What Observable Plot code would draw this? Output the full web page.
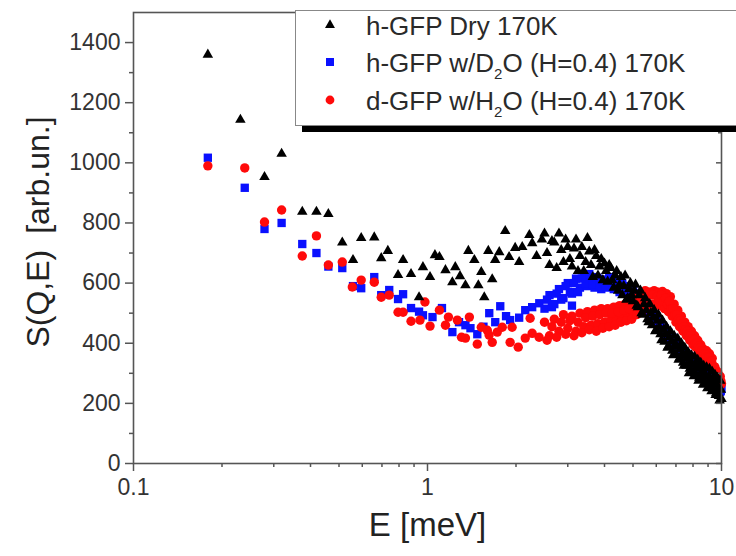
<!DOCTYPE html>
<html><head><meta charset="utf-8">
<script src="https://cdn.jsdelivr.net/npm/d3@7"></script>
<script src="https://cdn.jsdelivr.net/npm/@observablehq/plot@0.6"></script>
<style>
body{margin:0;background:#fff;}
#chart{position:relative;width:736px;height:556px;overflow:hidden;background:#fff;}
#legend{position:absolute;left:295px;top:10px;width:470px;height:114px;background:#fff;border:1px solid #888;box-shadow:7px 6px 0 #000;font-family:'Liberation Sans',Arial,sans-serif;font-size:26px;color:#2a2a2a;}
.lrow{position:absolute;left:0;height:30px;white-space:nowrap;}
.lrow svg{position:absolute;left:26px;top:6px;}
.lrow span{position:absolute;left:70px;top:0;line-height:30px;}
.lrow sub{font-size:15px;vertical-align:-7px;line-height:0;}
</style></head><body><div id="chart"></div>
<script>
// Series names (legend labels)
const seriesNames = ["h-GFP Dry 170K", "h-GFP w/D<sub>2</sub>O (H=0.4) 170K", "d-GFP w/H<sub>2</sub>O (H=0.4) 170K"];
const seriesColors = ["#000000", "#0a10ff", "#ff0a0a"];

// h-GFP Dry 170K, individually resolved points
const dryE = [0.179,0.231,0.279,0.319,0.375,0.419,0.460,0.513,0.558,0.595,0.659,0.696,0.733,0.794,0.826,0.879,0.936,0.965,1.02,1.06,1.098,1.151,1.215,1.243,1.29,1.346,1.377,1.443,1.489,1.524,1.560,1.610,1.660,1.699,1.754,1.838,1.895,1.987,2.05,2.10,2.22,2.27,2.35,2.45];
const dryS = [1360,1143,953,1030,837,837,830,735,677,750,752,683,707,627,677,630,553,653,620,693,687,643,603,653,623,593,707,677,593,637,553,707,613,677,703,773,687,717,670,720,760,733,690,745];

// h-GFP w/D2O, individually resolved points
const d2oE = [0.179,0.239,0.279,0.319,0.375,0.419,0.460,0.513,0.558,0.595,0.659,0.696,0.741,0.794,0.826,0.879,0.936,0.965,1.04,1.12,1.215,1.28,1.346,1.40,1.477,1.55,1.622,1.70,1.768,1.85,1.910,2.05,2.15,2.27,2.40,3.1];
const d2oS = [1017,917,780,800,730,700,655,650,590,583,620,560,577,547,563,517,505,493,487,517,437,470,460,450,430,455,500,470,523,490,477,485,510,520,533,525];

// d-GFP w/H2O, individually resolved points
const h2oE = [0.179,0.239,0.279,0.319,0.375,0.419,0.460,0.513,0.555,0.595,0.659,0.696,0.741,0.794,0.826,0.879,0.943,0.98,1.02,1.098,1.151,1.178,1.263,1.305,1.346,1.388,1.477,1.524,1.597,1.62,1.660,1.727,1.796,1.910,1.940,2.035,2.150,2.234,2.270,2.397];
const h2oS = [990,983,803,843,690,757,660,670,587,610,603,553,560,503,503,473,477,537,457,510,460,487,477,420,417,487,397,453,443,427,403,437,453,403,453,387,417,483,433,420];

// Dense high-energy region, grid A (meV)
const denseE = [2.5,2.6,2.7,2.8,2.9,3.0,3.1,3.2,3.3,3.4,3.5,3.6,3.7,3.8,3.9,4.0,4.1,4.2,4.3,4.4,4.5,4.6,4.7,4.8,4.9,5.0,5.1,5.2,5.3,5.4,5.5,5.6,5.7,5.8,5.9,6.0,6.1,6.2,6.3,6.4,6.5,6.6,6.7,6.8,6.9,7.0,7.1,7.2,7.3,7.4,7.5,7.6,7.7,7.8,7.9,8.0,8.1,8.2,8.3,8.4,8.5,8.6,8.7,8.8,8.9,9.0,9.1,9.2,9.3,9.4,9.5,9.6,9.7,9.8,9.9,10.0];
const dryDense = [765,660,735,765,670,720,655,745,690,640,750,660,710,625,680,665,605,650,585,640,595,560,625,550,600,540,595,520,575,495,550,480,530,460,510,445,495,430,475,405,455,390,440,375,425,365,415,350,400,335,385,325,370,315,360,305,355,295,345,285,335,280,325,270,320,265,315,255,305,245,295,235,285,225,275,215];
const d2oDense = [515,560,530,580,550,600,565,615,585,625,590,620,585,615,580,612,585,610,580,605,570,598,565,590,555,580,545,565,525,545,505,525,485,505,470,490,455,470,435,450,415,435,400,420,390,405,375,390,360,375,350,365,340,355,330,345,320,335,310,325,305,318,295,308,285,298,275,288,265,278,255,268,245,258,238,248];
const h2oDense = [470,425,480,440,495,450,490,440,500,455,505,460,510,465,515,470,515,475,520,480,525,485,530,490,535,500,550,510,565,520,575,525,570,530,575,530,570,525,572,515,565,505,555,490,530,470,510,455,490,440,470,425,455,410,440,395,425,385,410,370,395,360,380,355,375,345,365,330,350,315,320,290,305,275,290,265];

// Dense high-energy region, grid B (meV)
const denseE2 = [2.55,2.65,2.75,2.85,2.95,3.05,3.15,3.25,3.35,3.45,3.55,3.65,3.75,3.85,3.95,4.05,4.15,4.25,4.35,4.45,4.55,4.65,4.75,4.85,4.95,5.05,5.15,5.25,5.35,5.45,5.55,5.65,5.75,5.85,5.95,6.05,6.15,6.25,6.35,6.45,6.55,6.65,6.75,6.85,6.95,7.05,7.15,7.25,7.35,7.45,7.55,7.65,7.75,7.85,7.95,8.05,8.15,8.25,8.35,8.45,8.55,8.65,8.75,8.85,8.95,9.05,9.15,9.25,9.35,9.45,9.55,9.65,9.75,9.85,9.95];
const dryDense2 = [700,740,650,710,745,680,715,640,720,670,705,620,690,655,610,640,660,610,625,575,620,590,545,580,560,575,525,560,500,530,510,470,500,485,440,475,455,410,445,430,385,420,405,360,395,390,345,380,365,325,360,350,300,340,330,290,330,320,275,315,305,262,300,292,250,290,280,240,275,268,228,262,250,210,245];
const d2oDense2 = [545,520,565,545,590,570,600,570,615,600,630,595,620,590,605,590,620,595,600,585,605,575,585,565,575,555,565,540,545,520,525,500,500,480,485,465,465,445,445,425,428,410,412,398,398,385,385,372,372,360,358,348,348,338,336,328,326,318,316,308,310,298,300,288,290,280,282,270,272,262,262,252,254,244,242];
const h2oDense2 = [410,455,420,470,430,475,425,470,435,485,445,490,440,495,450,500,455,500,460,505,470,510,475,515,480,525,495,540,505,555,515,560,520,560,525,555,545,560,540,550,530,540,515,515,495,495,480,475,465,455,445,440,430,425,415,410,400,398,390,385,375,372,365,362,355,352,340,340,325,322,305,300,290,285,275];

// Axis ticks and titles
const yMajor = [0,200,400,600,800,1000,1200,1400];
const yMinor = [100,300,500,700,900,1100,1300];
const xMajor = [0.1,1,10];
const xMinor = [0.2,0.3,0.4,0.5,0.6,0.7,0.8,0.9,2,3,4,5,6,7,8,9];
const xTitle = "E [meV]";
const yTitle = "S(Q,E)\u2002[arb.un.]";

const rows = (E, S) => E.map((e, i) => ({E: e, S: S[i]}));
const dryRows = rows(dryE, dryS).concat(rows(denseE, dryDense), rows(denseE2, dryDense2));
const d2oRows = rows(d2oE, d2oS).concat(rows(denseE, d2oDense), rows(denseE2, d2oDense2));
const h2oRows = rows(h2oE, h2oS).concat(rows(denseE, h2oDense), rows(denseE2, h2oDense2));

const axisStroke = "#555";
const rTri = 3.9, rSq = 4.7, rCirc = 4.7;
const plot = Plot.plot({
  width: 736, height: 556,
  marginLeft: 133, marginRight: 15, marginTop: 12, marginBottom: 93,
  x: {type: "log", domain: [0.1, 10]},
  y: {domain: [0, 1500]},
  style: {fontFamily: "'Liberation Sans', Arial, sans-serif", color: "#333", background: "#fff"},
  marks: [
    Plot.dot(d2oRows, {x: "E", y: "S", symbol: "square", r: rSq, fill: seriesColors[1], stroke: "none"}),
    Plot.dot(h2oRows, {x: "E", y: "S", symbol: "circle", r: rCirc, fill: seriesColors[2], stroke: "none"}),
    Plot.dot(dryRows, {x: "E", y: "S", symbol: "triangle", r: rTri, fill: seriesColors[0], stroke: "none"}),
    Plot.frame({stroke: axisStroke, strokeWidth: 1.6}),
    Plot.axisY(yMajor, {anchor: "left", tickSize: 8, tickPadding: 5, fontSize: 23, label: null, stroke: axisStroke, strokeWidth: 1.5, tickFormat: d => String(d)}),
    Plot.axisY(yMinor, {anchor: "left", tickSize: 4, label: null, stroke: axisStroke, strokeWidth: 1.5, tickFormat: () => ""}),
    Plot.axisY(yMajor, {anchor: "right", tickSize: -6, label: null, stroke: axisStroke, strokeWidth: 1.5, tickFormat: () => ""}),
    Plot.axisY(yMinor, {anchor: "right", tickSize: -4, label: null, stroke: axisStroke, strokeWidth: 1.5, tickFormat: () => ""}),
    Plot.axisX(xMajor, {anchor: "bottom", tickSize: 8, tickPadding: 7, fontSize: 23, label: null, stroke: axisStroke, strokeWidth: 1.5, tickFormat: d => String(d)}),
    Plot.axisX(xMinor, {anchor: "bottom", tickSize: 4, label: null, stroke: axisStroke, strokeWidth: 1.5, tickFormat: () => ""}),
    Plot.text([xTitle], {frameAnchor: "bottom", dy: 72, fontSize: 33, fill: "#222", textAnchor: "middle"}),
    Plot.text([yTitle], {frameAnchor: "left", dx: -95, dy: -6, rotate: -90, fontSize: 32, fill: "#222", textAnchor: "middle"})
  ]
});
const chart = document.getElementById("chart");
chart.appendChild(plot);

// Legend overlay
const legend = document.createElement("div");
legend.id = "legend";
const symbols = [d3.symbolTriangle, d3.symbolSquare, d3.symbolCircle];
const symSizes = [Math.PI * 3.7 * 3.7, Math.PI * 4.5 * 4.5, Math.PI * 4.4 * 4.4];
const rowTops = [0, 37, 75];
seriesNames.forEach((name, i) => {
  const row = document.createElement("div");
  row.className = "lrow";
  row.style.top = rowTops[i] + "px";
  row.innerHTML = `<svg width="16" height="16" viewBox="-8 -8 16 16"><path d="${d3.symbol(symbols[i], symSizes[i])()}" fill="${seriesColors[i]}"/></svg><span>${name}</span>`;
  legend.appendChild(row);
});
chart.appendChild(legend);
</script>
</body></html>
